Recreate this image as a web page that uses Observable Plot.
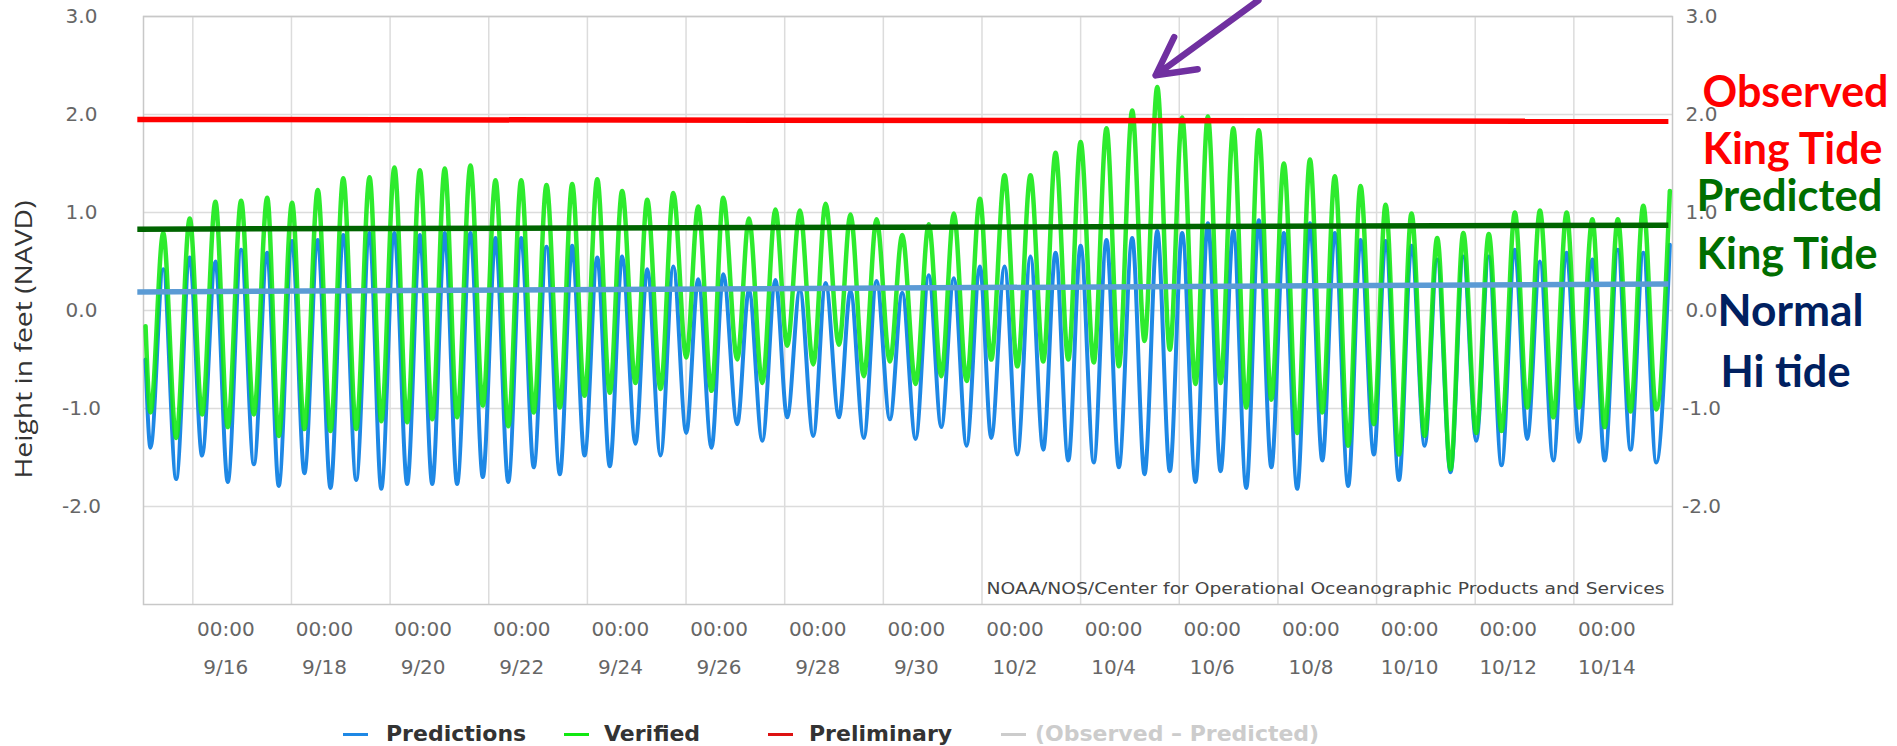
<!DOCTYPE html>
<html>
<head>
<meta charset="utf-8">
<script src="https://cdn.jsdelivr.net/npm/d3@7"></script>
<script src="https://cdn.jsdelivr.net/npm/@observablehq/plot@0.6"></script>
<style>
  html, body { margin: 0; padding: 0; background: #fff; }
  body { width: 1897px; height: 746px; overflow: hidden; position: relative; font-family: "DejaVu Sans", sans-serif; }
  #chart { position: absolute; left: 0; top: 0; }
  #legend { position: absolute; left: 0; top: 700px; width: 1897px; height: 46px; }
  .sw { position: absolute; height: 3px; width: 25px; top: 33px; }
  .lt { position: absolute; top: 21px; font: bold 22px/26px "DejaVu Sans", sans-serif; color: #333; white-space: nowrap; }
</style>
</head>
<body>
<div id="chart"></div>
<div id="legend"></div>
<script>
// ---------------- DATA ----------------
// Hours since 9/15 00:00 of each tide turning point (start, low, high, low, ... , end)
const extremeHours = [
  1.0,
  3.4, 9.6, 15.9, 22.5, 28.5, 35.0, 41.0, 47.5, 53.7, 60.2, 65.8, 72.3, 78.3, 84.8, 91.0, 97.2, 103.5, 110.0, 115.7, 122.1,
  128.3, 134.5, 140.5, 146.6, 152.6, 159.1, 165.1, 171.3, 177.5, 183.8,
  189.9, 196.1, 202.6, 208.6, 214.6, 220.8, 226.9, 232.9, 239.4, 245.1, 251.6, 257.8, 264.1, 269.9, 276.4, 282.1,
  288.9, 294.6, 301.1, 307.5, 313.2, 319.4, 325.9, 331.9, 338.4, 344.0, 350.5, 356.7, 363.2, 369.2,
  375.7, 382.1, 388.2, 394.3, 400.5, 407.0, 412.5, 419.0, 425.2, 431.6, 437.8, 443.8, 450.0, 456.0, 462.4, 468.6,
  474.6, 481.1, 487.1, 493.3, 499.4, 505.4, 511.9, 517.9, 524.1, 530.3, 536.6, 542.7, 548.8, 554.9,
  561.4, 567.6, 573.6, 579.7, 586.2, 592.2, 598.7, 604.4, 610.9, 617.0, 623.4, 629.5, 636.0, 642.2, 648.5, 654.6,
  660.8, 667.3, 673.3, 679.5, 686.0, 692.5, 698.5, 705.0, 711.0, 717.4, 723.6, 729.8, 736.1, 742.7
];
// Verified water level (ft, NAVD) at those times
const verified = [
  -0.16,
  -1.04, 0.79, -1.30, 0.94, -1.06, 1.11, -1.19, 1.12, -1.06, 1.15, -1.28, 1.10, -1.21, 1.23, -1.23, 1.35, -1.21, 1.36, -1.13, 1.46,
  -1.14, 1.43, -1.11, 1.45, -1.09, 1.48, -0.97, 1.33, -1.18, 1.33,
  -1.04, 1.28, -0.99, 1.29, -0.87, 1.34, -0.84, 1.22, -0.74, 1.13, -0.80, 1.20, -0.48, 1.06, -0.82, 1.15,
  -0.50, 0.94, -0.74, 1.03, -0.36, 1.02, -0.55, 1.09, -0.35, 0.98, -0.67, 0.93, -0.52, 0.77,
  -0.75, 0.88, -0.67, 0.99, -0.72, 1.14, -0.50, 1.38, -0.57, 1.38, -0.52, 1.61, -0.50, 1.72, -0.53, 1.86,
  -0.57, 2.04, -0.31, 2.28, -0.40, 1.97, -0.75, 1.98, -0.74, 1.86, -0.99, 1.84, -0.91, 1.50,
  -1.25, 1.54, -1.04, 1.37, -1.38, 1.27, -1.16, 1.08, -1.47, 0.99, -1.28, 0.74, -1.62, 0.79, -1.25, 0.78,
  -1.23, 1.00, -0.99, 1.02, -1.09, 1.00, -0.99, 0.93, -1.19, 0.93, -1.03, 1.07, -1.01, 1.22
];
// Predicted water level (ft, NAVD) at those times
const predictions = [
  -0.50,
  -1.40, 0.42, -1.72, 0.54, -1.48, 0.50, -1.75, 0.62, -1.57, 0.59, -1.79, 0.71, -1.66, 0.72, -1.81, 0.77, -1.73, 0.79, -1.82, 0.79,
  -1.77, 0.77, -1.77, 0.79, -1.77, 0.79, -1.70, 0.74, -1.75, 0.74,
  -1.60, 0.65, -1.67, 0.66, -1.48, 0.54, -1.59, 0.55, -1.36, 0.42, -1.48, 0.45, -1.25, 0.32, -1.40, 0.37,
  -1.16, 0.21, -1.33, 0.31, -1.09, 0.21, -1.28, 0.28, -1.09, 0.20, -1.30, 0.30, -1.11, 0.18,
  -1.31, 0.36, -1.19, 0.33, -1.38, 0.45, -1.30, 0.45, -1.47, 0.55, -1.42, 0.59, -1.53, 0.66, -1.55, 0.72,
  -1.60, 0.74, -1.67, 0.81, -1.64, 0.79, -1.75, 0.89, -1.64, 0.81, -1.81, 0.92, -1.60, 0.79,
  -1.82, 0.89, -1.53, 0.79, -1.79, 0.72, -1.47, 0.71, -1.73, 0.66, -1.38, 0.52, -1.65, 0.55, -1.33, 0.55,
  -1.58, 0.62, -1.31, 0.50, -1.53, 0.59, -1.34, 0.52, -1.53, 0.62, -1.42, 0.59, -1.55, 0.67
];
// Hand-drawn reference levels (ft) at left and right ends
const referenceNames = ["Observed King Tide", "Predicted King Tide", "Normal Hi tide"];
const referenceLeft  = [1.95, 0.83, 0.19];
const referenceRight = [1.93, 0.87, 0.27];
const referenceSpanHours = [-3, 742];

const tickLabels = ["9/16","9/18","9/20","9/22","9/24","9/26","9/28","9/30","10/2","10/4","10/6","10/8","10/10","10/12","10/14"];
const yTicks = [-2, -1, 0, 1, 2, 3];
const annotationLabels = ["Observed", "King Tide", "Predicted", "King Tide", "Normal", "Hi tide"];
const legendLabels = ["Predictions", "Verified", "Preliminary", "(Observed \u2013 Predicted)"];
const yLabel = "Height in feet (NAVD)";
const creditText = "NOAA/NOS/Center for Operational Oceanographic Products and Services";

// ---------------- BUILD ----------------
const t0 = Date.UTC(2015, 8, 15);
const hourToDate = h => new Date(t0 + h * 3600e3);
const rows = extremeHours.map((h, i) => ({time: hourToDate(h), verified: verified[i], predicted: predictions[i]}));
const tickDates = tickLabels.map(s => { const [m, d] = s.split("/").map(Number); return new Date(Date.UTC(2015, m - 1, d)); });
const refRows = referenceNames.map((n, i) => ({name: n, x1: hourToDate(referenceSpanHours[0]), x2: hourToDate(referenceSpanHours[1]), y1: referenceLeft[i], y2: referenceRight[i]}));
const refColors = ["#ff0000", "#006400", "#5b9bd5"];

// arrow pointing at the highest verified tide
const peakIdx = d3.maxIndex(verified);
const tipH = extremeHours[peakIdx] - 0.8, tipV = verified[peakIdx] + 0.12;
const arrowRow = [{x1: hourToDate(tipH + 50), y1: tipV + 0.765, x2: hourToDate(tipH), y2: tipV}];

const annotLayout = [
  {dx: 30, dy: 90,  color: "#ff0000", w: 186},
  {dx: 30, dy: 147, color: "#ff0000", w: 180},
  {dx: 24, dy: 194, color: "#006e00", w: 186},
  {dx: 24, dy: 252, color: "#006e00", w: 181},
  {dx: 45, dy: 309, color: "#002060", w: 146},
  {dx: 48, dy: 370, color: "#002060", w: 130}
];

const fmtDay = d3.utcFormat("%-m/%-d");
const tickFont = {fontSize: 20, fill: "#666", fontFamily: "DejaVu Sans"};

const chart = Plot.plot({
  width: 1897,
  height: 700,
  marginLeft: 143,
  marginRight: 225,
  marginTop: 16,
  marginBottom: 96,
  style: {background: "transparent", overflow: "visible"},
  x: {type: "utc", domain: [hourToDate(0), hourToDate(744)]},
  y: {domain: [-3, 3]},
  marks: [
    Plot.gridY(yTicks, {stroke: "#dcdcdc", strokeOpacity: 1, strokeWidth: 1.5}),
    Plot.gridX(tickDates, {stroke: "#dcdcdc", strokeOpacity: 1, strokeWidth: 1.5}),
    Plot.frame({stroke: "#c8c8c8", strokeWidth: 1.5}),
    Plot.axisY(yTicks, {anchor: "left", tickSize: 0, tickPadding: 62, textAnchor: "middle", tickFormat: d => d.toFixed(1), label: null, ...tickFont}),
    Plot.axisY(yTicks, {anchor: "right", tickSize: 0, tickPadding: 29, textAnchor: "middle", tickFormat: d => d.toFixed(1), label: null, ...tickFont}),
    Plot.axisX(tickDates, {anchor: "bottom", tickSize: 0, tickPadding: 5, dx: 33, lineHeight: 1.9, tickFormat: d => "00:00\n" + fmtDay(d), label: null, ...tickFont}),
    Plot.text([creditText], {frameAnchor: "bottom-right", dx: -8, dy: -11, textAnchor: "end", lineAnchor: "bottom", fontSize: 16, fill: "#444", fontFamily: "DejaVu Sans"}),
    Plot.line(rows, {x: "time", y: "predicted", curve: "monotone-x", stroke: "#1e88e5", strokeWidth: 4}),
    Plot.line(rows, {x: "time", y: "verified", curve: "monotone-x", stroke: "#11e811", strokeWidth: 4.5, strokeOpacity: 0.88}),
    Plot.link(refRows, {x1: "x1", x2: "x2", y1: "y1", y2: "y2", stroke: (d, i) => refColors[i], strokeWidth: 5.5}),
    Plot.arrow(arrowRow, {x1: "x1", y1: "y1", x2: "x2", y2: "y2", stroke: "#7030a0", strokeWidth: 6.5, headLength: 36, headAngle: 56, strokeLinecap: "round", strokeLinejoin: "round"}),
    Plot.text([yLabel], {frameAnchor: "left", dx: -119, dy: 29, rotate: -90, textAnchor: "middle", fontSize: 24, fill: "#333", fontFamily: "Open Sans"}),
    ...annotationLabels.map((s, i) => Plot.text([s], {
      frameAnchor: "top-right", dx: annotLayout[i].dx, dy: annotLayout[i].dy, textAnchor: "start", lineAnchor: "bottom",
      fill: annotLayout[i].color, fontSize: 44, fontWeight: "bold", fontFamily: "Lato"
    }))
  ]
});
document.getElementById("chart").appendChild(chart);

// fit text widths to the reference
const fits = [...annotationLabels.map((s, i) => [s, annotLayout[i].w]), [yLabel, 278], [creditText, 678]];
const texts = Array.from(chart.querySelectorAll("text"));
const used = new Set();
for (const [s, w] of fits) {
  const t = texts.find(t => !used.has(t) && t.textContent === s);
  if (t) { used.add(t); t.setAttribute("textLength", w); t.setAttribute("lengthAdjust", "spacingAndGlyphs"); }
}

// legend (below the SVG)
const legendColors = ["#1e88e5", "#11e811", "#dd1111", "#cccccc"];
const legendSw = [343, 564, 768, 1001];
const legendTx = [386, 604, 809, 1035];
const legend = d3.select("#legend");
legendLabels.forEach((s, i) => {
  legend.append("div").attr("class", "sw").style("left", legendSw[i] + "px").style("background", legendColors[i]);
  legend.append("div").attr("class", "lt").style("left", legendTx[i] + "px").style("color", i === 3 ? "#cccccc" : "#333").text(s);
});
</script>
</body>
</html>
